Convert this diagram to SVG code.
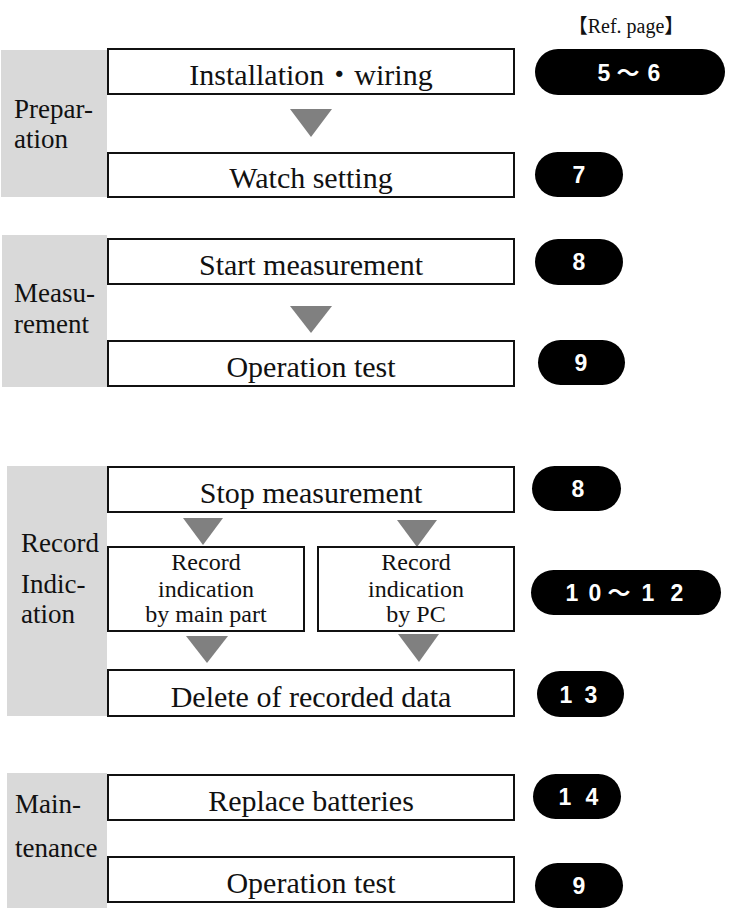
<svg xmlns="http://www.w3.org/2000/svg" width="731" height="912" viewBox="0 0 731 912">
<style>
.band{fill:#d9d9d9}
.box{fill:#fff;stroke:#111;stroke-width:2}
.lbl{font-family:"Liberation Serif","Noto Sans CJK JP",serif;font-size:30px;fill:#111;text-anchor:middle}
.sm{font-family:"Liberation Serif","Noto Sans CJK JP",serif;font-size:24px;fill:#111;text-anchor:middle}
.side{font-family:"Liberation Serif",serif;font-size:27px;fill:#111}
.pill{fill:#000}
.pt{font-family:"Liberation Sans","Noto Sans CJK JP",sans-serif;font-size:23px;font-weight:bold;fill:#fff;text-anchor:middle}
.tri{fill:#808080}
.ref{font-family:"Liberation Serif","Noto Sans CJK JP",serif;font-size:20px;fill:#111;text-anchor:middle}
</style>
<rect width="731" height="912" fill="#fff"/>

<g id="sec-preparation">
<rect class="band" x="1" y="50" width="106" height="147"/>
<text class="side" x="14" y="118">Prepar-</text>
<text class="side" x="14" y="148">ation</text>
</g>
<g id="sec-measurement">
<rect class="band" x="2" y="235" width="105" height="152"/>
<text class="side" x="14" y="302">Measu-</text>
<text class="side" x="14" y="333">rement</text>
</g>
<g id="sec-record">
<rect class="band" x="7" y="466" width="100" height="250"/>
<text class="side" x="21" y="552">Record</text>
<text class="side" x="21" y="593">Indic-</text>
<text class="side" x="21" y="623">ation</text>
</g>
<g id="sec-maintenance">
<rect class="band" x="7" y="773" width="100" height="135"/>
<text class="side" x="15" y="813">Main-</text>
<text class="side" x="15" y="857">tenance</text>
</g>

<text class="ref" x="626" y="33">【Ref. page】</text>

<g id="connectors">
<polygon class="tri" points="290,109 332,109 311,137"/>
<polygon class="tri" points="290,306 332,306 311,333"/>
<polygon class="tri" points="183,518 223,518 203,545"/>
<polygon class="tri" points="397,520 437,520 417,547"/>
<polygon class="tri" points="186,636 228,636 207,663"/>
<polygon class="tri" points="398,634 439,634 419,662"/>
</g>

<g id="n-install">
<rect class="box" x="108" y="49" width="406" height="45"/>
<text class="lbl" x="311" y="85">Installation・wiring</text>
</g>
<g id="n-watch">
<rect class="box" x="108" y="153" width="406" height="44"/>
<text class="lbl" x="311" y="188">Watch setting</text>
</g>
<g id="n-start">
<rect class="box" x="108" y="239" width="406" height="45"/>
<text class="lbl" x="311" y="275">Start measurement</text>
</g>
<g id="n-optest1">
<rect class="box" x="108" y="341" width="406" height="45"/>
<text class="lbl" x="311" y="377">Operation test</text>
</g>
<g id="n-stop">
<rect class="box" x="108" y="467" width="406" height="45"/>
<text class="lbl" x="311" y="503">Stop measurement</text>
</g>
<g id="n-rec-main">
<rect class="box" x="108" y="547" width="196" height="84"/>
<text class="sm" x="206" y="570">Record</text>
<text class="sm" x="206" y="597">indication</text>
<text class="sm" x="206" y="622">by main part</text>
</g>
<g id="n-rec-pc">
<rect class="box" x="318" y="547" width="196" height="84"/>
<text class="sm" x="416" y="570">Record</text>
<text class="sm" x="416" y="597">indication</text>
<text class="sm" x="416" y="622">by PC</text>
</g>
<g id="n-delete">
<rect class="box" x="108" y="670" width="406" height="46"/>
<text class="lbl" x="311" y="707">Delete of recorded data</text>
</g>
<g id="n-battery">
<rect class="box" x="108" y="775" width="406" height="45"/>
<text class="lbl" x="311" y="811">Replace batteries</text>
</g>
<g id="n-optest2">
<rect class="box" x="108" y="857" width="406" height="45"/>
<text class="lbl" x="311" y="893">Operation test</text>
</g>

<g id="p-5-6"><rect class="pill" x="535" y="49" width="190" height="46" rx="23"/><text class="pt" x="604 628 654" y="81">5～6</text></g>
<g id="p-7"><rect class="pill" x="535" y="152" width="88" height="45" rx="22.5"/><text class="pt" x="579" y="183">7</text></g>
<g id="p-8a"><rect class="pill" x="535" y="239" width="88" height="46" rx="23"/><text class="pt" x="579" y="270">8</text></g>
<g id="p-9a"><rect class="pill" x="538" y="340" width="87" height="45" rx="22.5"/><text class="pt" x="581" y="371">9</text></g>
<g id="p-8b"><rect class="pill" x="532" y="466" width="89" height="45" rx="22.5"/><text class="pt" x="578" y="497">8</text></g>
<g id="p-10-12"><rect class="pill" x="531" y="570" width="190" height="45" rx="22.5"/><text class="pt" x="572 595 619 648 677" y="601">10～12</text></g>
<g id="p-13"><rect class="pill" x="537" y="671" width="87" height="46" rx="23"/><text class="pt" x="566 591" y="703">13</text></g>
<g id="p-14"><rect class="pill" x="533" y="774" width="88" height="45" rx="22.5"/><text class="pt" x="565 592" y="805">14</text></g>
<g id="p-9b"><rect class="pill" x="535" y="863" width="88" height="45" rx="22.5"/><text class="pt" x="579" y="894">9</text></g>
</svg>
